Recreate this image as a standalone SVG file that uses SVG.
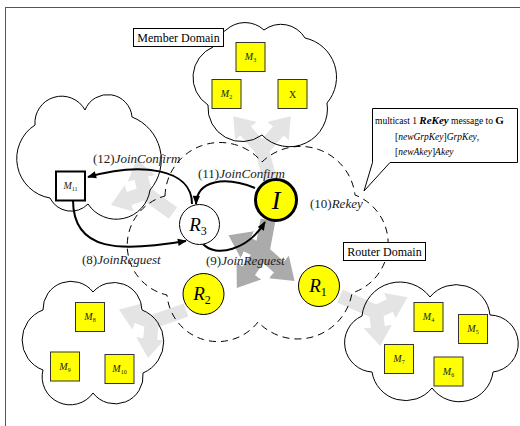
<svg xmlns="http://www.w3.org/2000/svg" width="520" height="426" viewBox="0 0 520 426">
<style>
.cloud{fill:none;stroke:#000;stroke-width:1}
.dash{fill:none;stroke:#000;stroke-width:1;stroke-dasharray:7 5}
.mbox{fill:#ff0;stroke:#333;stroke-width:1}
.t{font-family:"Liberation Serif","Times New Roman",serif;fill:#000}
.it{font-style:italic}
.mt{font-family:"Liberation Serif",serif;font-size:10px;text-anchor:middle;fill:#222}
.lg{fill:none;stroke:#e4e4e4;stroke-width:14}
.dg{fill:none;stroke:#ababab;stroke-width:15}
.lga{marker-end:url(#lgh)}
.dga{marker-end:url(#dgh)}
.arr{fill:none;stroke:#000;stroke-width:2;marker-end:url(#ah)}
.lbl{font-family:"Liberation Serif",serif;font-size:13px;fill:#222}
</style>
<defs>
<marker id="lgh" viewBox="0 0 10 10" refX="0.5" refY="5" markerWidth="2" markerHeight="2" orient="auto" markerUnits="strokeWidth"><path d="M0,0 L7,5 L0,10 Z" fill="#e4e4e4"/></marker>
<marker id="dgh" viewBox="0 0 10 10" refX="0.5" refY="5" markerWidth="2" markerHeight="2" orient="auto" markerUnits="strokeWidth"><path d="M0,0 L7,5 L0,10 Z" fill="#ababab"/></marker>
<marker id="ah" viewBox="0 0 10 10" refX="9" refY="5" markerWidth="10" markerHeight="9" orient="auto" markerUnits="userSpaceOnUse"><path d="M0,1 L10,5 L0,9 Z" fill="#000"/></marker>
</defs>
<rect width="520" height="426" fill="#fff"/>
<rect x="5.5" y="7.5" width="530" height="430" fill="none" stroke="#555" stroke-width="1"/>

<!-- gray flow arrows -->
<g id="flows">
<g id="flowA">
<path class="lg" d="M270,180 L262,150"/><circle cx="262" cy="150" r="7" fill="#e4e4e4"/>
<path class="lg lga" d="M262,150 L245,130"/><path class="lg lga" d="M262,150 L279,130"/>
</g>
<g id="flowB">
<path class="lg" d="M173,213 L145,193"/><circle cx="145" cy="193" r="7" fill="#e4e4e4"/>
<path class="lg lga" d="M145,193 L141,177"/><path class="lg lga" d="M145,193 L128,199"/>
</g>
<g id="flowC">
<path class="lg" d="M186,310 L152,322"/><circle cx="152" cy="322" r="7" fill="#e4e4e4"/>
<path class="lg lga" d="M152,322 L136,316"/><path class="lg lga" d="M152,322 L150,340"/>
</g>
<g id="flowD">
<path class="lg" d="M340,296 L376,312"/><circle cx="376" cy="312" r="7" fill="#e4e4e4"/>
<path class="lg lga" d="M376,312 L391,305"/><path class="lg lga" d="M376,312 L378,328"/>
</g>
<g id="flowE">
<path class="dg" d="M268,220 L262,252"/><circle cx="262" cy="252" r="7.5" fill="#ababab"/>
<path class="dg dga" d="M262,252 L246,244"/><path class="dg dga" d="M262,252 L248,272"/><path class="dg dga" d="M262,252 L280,268"/>
</g>
</g>

<!-- domains -->
<g id="member-domain">
<path class="cloud" d="M213,47 A28 28 0 0 1 226,30 A28 28 0 0 1 264,30 A28 28 0 0 1 305,38 A40 40 0 0 1 327,103 A38 38 0 0 1 262,135 A34 34 0 0 1 208,105 A33 33 0 0 1 213,47 Z"/>
<rect x="133.5" y="28.5" width="90" height="18" fill="#fff" stroke="#000"/>
<text class="t" x="178.5" y="42" font-size="12" text-anchor="middle">Member Domain</text>
</g>
<g id="cloud-m11">
<path class="cloud" d="M35,125 A26.7 26.7 0 0 1 85,110 A24.4 24.4 0 0 1 132,117 A46 46 0 0 1 150,190 A34 34 0 0 1 88,204 A23.5 23.5 0 0 1 50,198 A40 40 0 0 1 35,125 Z"/>
</g>
<g id="cloud-left">
<path class="cloud" d="M43,310 A28 28 0 0 1 93,292 A28 28 0 0 1 142,310 A34 34 0 0 1 143,373 A28 28 0 0 1 93,393 A28 28 0 0 1 43,370 A32 32 0 0 1 43,310 Z"/>
</g>
<g id="cloud-right">
<path class="cloud" d="M362,316 A38 38 0 0 1 430,297 A34 34 0 0 1 490,315 A28.6 28.6 0 0 1 493,372 A34 34 0 0 1 432,388 A34 34 0 0 1 372,372 A29.3 29.3 0 0 1 362,316 Z"/>
</g>
<g id="router-domain">
<path class="dash" d="M165,196 A55 55 0 0 1 262,162 A55 55 0 0 1 355,195 A52 52 0 0 1 352,293 A55 55 0 0 1 258,322 A51 51 0 0 1 167,295 A51 51 0 0 1 165,196 Z"/>
<rect x="343.5" y="242.5" width="82" height="18" fill="#fff" stroke="#000"/>
<text class="t" x="384.5" y="256" font-size="12" text-anchor="middle">Router Domain</text>
</g>

<!-- callout -->
<g id="callout">
<path d="M372.5,108.5 L517.5,108.5 L517.5,162.5 L390,162.5 L364,191 L372.5,162.5 Z" fill="#fff" stroke="#000"/>
<text class="t" x="375" y="124" font-size="9.5">multicast 1 <tspan font-weight="bold" font-style="italic" font-size="11">ReKey</tspan> message to <tspan font-weight="bold" font-size="11">G</tspan></text>
<text class="t" x="395" y="140" font-size="9.5">[<tspan class="it">newGrpKey</tspan>]<tspan class="it">GrpKey</tspan>,</text>
<text class="t" x="395" y="155" font-size="9.5">[<tspan class="it">newAkey</tspan>]<tspan class="it">Akey</tspan></text>
</g>

<!-- connectors -->
<g id="connectors">
<path class="arr" d="M192,204 C192,168 140,162 88,177"/>
<path class="arr" d="M73,200 C73,252 120,252 186,241"/>
<path class="arr" d="M255,188 C225,176 197,180 196,204"/>
<path class="arr" d="M203,244 C216,258 248,250 265,222"/>
<text class="lbl" x="93" y="163">(12)<tspan class="it">JoinConfirm</tspan></text>
<text class="lbl" x="82" y="264">(8)<tspan class="it">JoinReguest</tspan></text>
<text class="lbl" x="198" y="178">(11)<tspan class="it">JoinConfirm</tspan></text>
<text class="lbl" x="206" y="265">(9)<tspan class="it">JoinReguest</tspan></text>
<text class="lbl" x="310" y="208">(10)<tspan class="it">Rekey</tspan></text>
</g>

<!-- routers -->
<g id="node-I">
<circle cx="276" cy="200" r="20.5" fill="#ff0" stroke="#000" stroke-width="3"/>
<text class="t it" x="276" y="209" font-size="26" text-anchor="middle">I</text>
</g>
<g id="node-R3">
<circle cx="199.5" cy="224.5" r="20" fill="#fff" stroke="#000"/>
<text class="t" x="198" y="231" font-size="19" text-anchor="middle"><tspan class="it">R</tspan><tspan font-size="12" dy="4">3</tspan></text>
</g>
<g id="node-R2">
<circle cx="203.5" cy="294" r="20.5" fill="#ff0" stroke="#000"/>
<text class="t" x="202" y="300" font-size="19" text-anchor="middle"><tspan class="it">R</tspan><tspan font-size="12" dy="4">2</tspan></text>
</g>
<g id="node-R1">
<circle cx="319" cy="286" r="20.5" fill="#ff0" stroke="#000"/>
<text class="t" x="318" y="292" font-size="19" text-anchor="middle"><tspan class="it">R</tspan><tspan font-size="12" dy="4">1</tspan></text>
</g>

<!-- members -->
<g id="node-M3"><rect class="mbox" x="236" y="42.5" width="29" height="29"/><text class="mt" x="250.5" y="60"><tspan class="it">M</tspan><tspan font-size="6" dy="2">3</tspan></text></g>
<g id="node-M2"><rect class="mbox" x="212" y="79.5" width="29" height="29"/><text class="mt" x="226.5" y="97"><tspan class="it">M</tspan><tspan font-size="6" dy="2">2</tspan></text></g>
<g id="node-X"><rect class="mbox" x="278" y="79.5" width="29" height="29"/><text class="mt" x="292.5" y="98" font-size="12">X</text></g>
<g id="node-M11"><rect x="56" y="171.5" width="29" height="29" fill="#fff" stroke="#000" stroke-width="2"/><text class="mt" x="70.5" y="189"><tspan class="it">M</tspan><tspan font-size="6" dy="2">11</tspan></text></g>
<g id="node-M8"><rect class="mbox" x="75.5" y="302.5" width="29" height="29"/><text class="mt" x="90" y="320"><tspan class="it">M</tspan><tspan font-size="6" dy="2">8</tspan></text></g>
<g id="node-M9"><rect class="mbox" x="50.5" y="352" width="29" height="29"/><text class="mt" x="65" y="369.5"><tspan class="it">M</tspan><tspan font-size="6" dy="2">9</tspan></text></g>
<g id="node-M10"><rect class="mbox" x="105" y="354.5" width="29" height="29"/><text class="mt" x="119.5" y="372"><tspan class="it">M</tspan><tspan font-size="6" dy="2">10</tspan></text></g>
<g id="node-M4"><rect class="mbox" x="414" y="302.5" width="29" height="29"/><text class="mt" x="428.5" y="320"><tspan class="it">M</tspan><tspan font-size="6" dy="2">4</tspan></text></g>
<g id="node-M5"><rect class="mbox" x="458.5" y="314.5" width="29" height="29"/><text class="mt" x="473" y="332"><tspan class="it">M</tspan><tspan font-size="6" dy="2">5</tspan></text></g>
<g id="node-M7"><rect class="mbox" x="384.5" y="344.5" width="29" height="29"/><text class="mt" x="399" y="362"><tspan class="it">M</tspan><tspan font-size="6" dy="2">7</tspan></text></g>
<g id="node-M6"><rect class="mbox" x="434" y="357" width="29" height="29"/><text class="mt" x="448.5" y="374.5"><tspan class="it">M</tspan><tspan font-size="6" dy="2">6</tspan></text></g>
</svg>
